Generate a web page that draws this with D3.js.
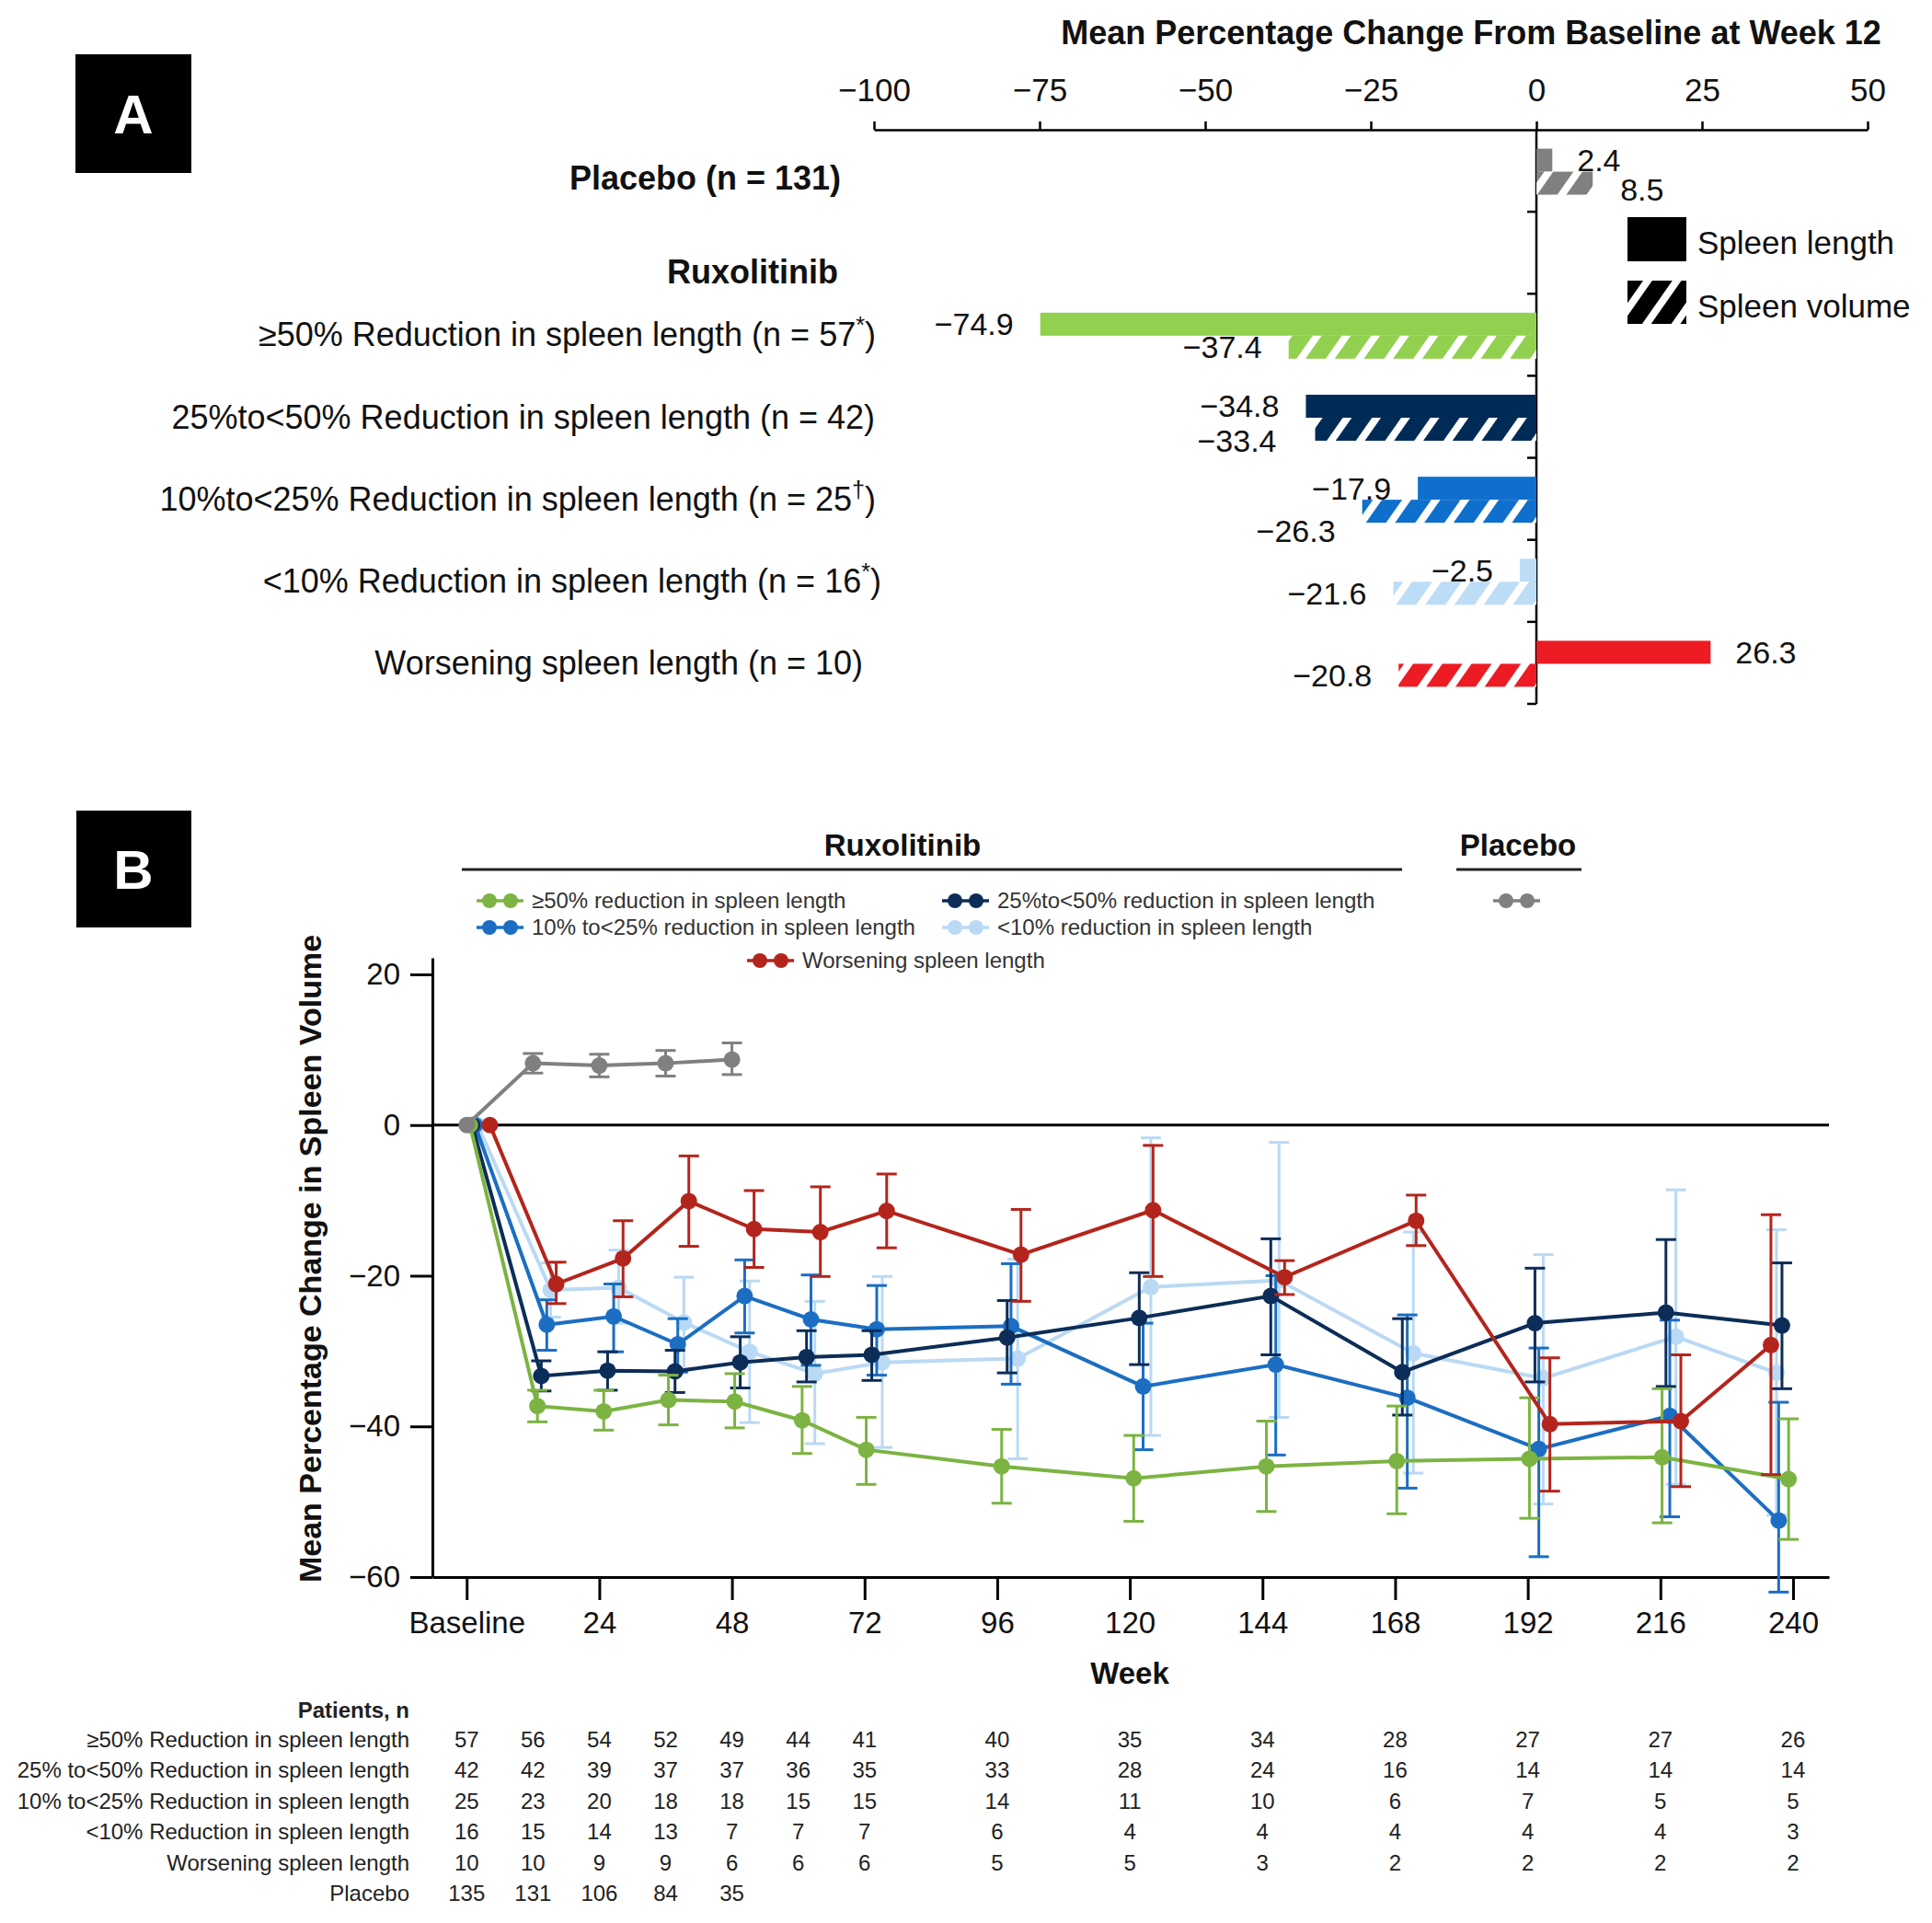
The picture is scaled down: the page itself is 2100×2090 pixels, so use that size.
<!DOCTYPE html>
<html><head><meta charset="utf-8">
<script src="https://cdn.jsdelivr.net/npm/d3@7"></script>
<style>body{margin:0;background:#fff}</style>
</head><body>
<svg id="chart" width="2100" height="2090"></svg>
<script>
// ---------------- DATA: Panel A ----------------
const panelARowLabels = ["Placebo (n = 131)", "Ruxolitinib",
  "≥50% Reduction in spleen length (n = 57*)",
  "25%to<50% Reduction in spleen length (n = 42)",
  "10%to<25% Reduction in spleen length (n = 25†)",
  "<10% Reduction in spleen length (n = 16*)",
  "Worsening spleen length (n = 10)"];
const panelAGroups = ["placebo", "g50", "g25", "g10", "g0", "worse"];
const spleenLengthChange = [2.4, -74.9, -34.8, -17.9, -2.5, 26.3];
const spleenVolumeChange = [8.5, -37.4, -33.4, -26.3, -21.6, -20.8];
const panelATicks = [-100, -75, -50, -25, 0, 25, 50];

// ---------------- DATA: Panel B ----------------
const weekTicks = [0, 24, 48, 72, 96, 120, 144, 168, 192, 216, 240];
const tableWeeks = [0, 12, 24, 36, 48, 60, 72, 96, 120, 144, 168, 192, 216, 240];
const seriesNames = ["≥50% reduction in spleen length", "25%to<50% reduction in spleen length",
  "10% to<25% reduction in spleen length", "<10% reduction in spleen length",
  "Worsening spleen length", "Placebo"];

const g50Weeks = [0.6, 12.8, 24.8, 36.5, 48.5, 60.7, 72.3, 96.8, 120.7, 144.7, 168.3, 192.3, 216.3, 239.2];
const g50Mean  = [0, -37.3, -38.0, -36.5, -36.7, -39.2, -43.1, -45.3, -46.9, -45.3, -44.6, -44.3, -44.1, -47.0];
const g50Hi    = [null, -35.2, -35.2, -33.2, -33.0, -34.7, -38.8, -40.4, -41.2, -39.3, -37.3, -36.2, -35.0, -39.0];
const g50Lo    = [null, -39.4, -40.5, -39.8, -40.2, -43.6, -47.7, -50.2, -52.6, -51.3, -51.6, -52.2, -52.8, -55.0];

const g25Weeks = [1.0, 13.5, 25.5, 37.7, 49.5, 61.5, 73.3, 97.8, 121.7, 145.5, 169.3, 193.3, 217.0, 238.0];
const g25Mean  = [0, -33.3, -32.6, -32.7, -31.5, -30.8, -30.5, -28.2, -25.6, -22.7, -32.8, -26.3, -24.9, -26.6];
const g25Hi    = [null, -31.3, -30.1, -29.9, -28.1, -27.3, -27.3, -23.3, -19.6, -15.1, -25.7, -19.0, -15.2, -18.3];
const g25Lo    = [null, -35.3, -35.2, -35.5, -34.9, -34.1, -33.9, -32.9, -31.8, -30.5, -38.5, -34.1, -34.7, -35.0];

const g10Weeks = [1.5, 14.5, 26.6, 38.2, 50.3, 62.3, 74.2, 98.5, 122.4, 146.4, 170.2, 194.0, 217.7, 237.4];
const g10Mean  = [0, -26.5, -25.4, -29.1, -22.7, -25.8, -27.1, -26.7, -34.7, -31.8, -36.2, -43.0, -38.6, -52.5];
const g10Hi    = [null, -23.2, -21.1, -25.7, -17.9, -19.9, -21.3, -18.4, -26.3, -20.0, -25.2, -29.6, -25.9, -36.8];
const g10Lo    = [null, -29.9, -30.1, -32.8, -27.6, -31.9, -33.2, -34.4, -43.1, -43.8, -48.2, -57.3, -52.0, -62.0];

const g0Weeks  = [2.0, 15.2, 27.5, 39.3, 51.2, 63.0, 75.2, 99.7, 123.8, 147.0, 171.3, 194.8, 218.8, 237.0];
const g0Mean   = [0, -21.9, -21.6, -26.2, -30.1, -33.0, -31.5, -31.0, -21.5, -20.6, -30.3, -33.6, -28.1, -32.9];
const g0Hi     = [null, -18.3, -16.6, -20.2, -20.7, -23.4, -20.1, -17.8, -1.7, -2.3, -14.2, -17.2, -8.6, -13.9];
const g0Lo     = [null, -25.5, -26.3, -32.3, -39.5, -42.3, -42.8, -44.3, -41.2, -38.8, -46.2, -50.3, -47.7, -51.8];

const worseWeeks = [4.2, 16.2, 28.3, 40.2, 52.0, 64.0, 76.0, 100.3, 124.2, 148.0, 171.8, 196.0, 219.7, 236.0];
const worseMean  = [0, -21.1, -17.7, -10.1, -13.8, -14.2, -11.4, -17.2, -11.3, -20.2, -12.7, -39.7, -39.3, -29.2];
const worseHi    = [null, -18.2, -12.7, -4.1, -8.7, -8.2, -6.5, -11.2, -2.7, -18.0, -9.3, -30.9, -30.5, -11.9];
const worseLo    = [null, -23.7, -22.8, -16.1, -18.9, -20.1, -16.3, -23.4, -20.1, -22.5, -16.0, -48.6, -48.0, -46.4];

const placeboWeeks = [0, 12, 24, 36, 48];
const placeboMean  = [0, 8.2, 7.9, 8.2, 8.7];
const placeboHi    = [null, 9.5, 9.4, 9.9, 10.9];
const placeboLo    = [null, 6.9, 6.4, 6.5, 6.7];

const tableLabels = ["≥50% Reduction in spleen length", "25% to<50% Reduction in spleen length",
  "10% to<25% Reduction in spleen length", "<10% Reduction in spleen length",
  "Worsening spleen length", "Placebo"];
const nG50   = [57, 56, 54, 52, 49, 44, 41, 40, 35, 34, 28, 27, 27, 26];
const nG25   = [42, 42, 39, 37, 37, 36, 35, 33, 28, 24, 16, 14, 14, 14];
const nG10   = [25, 23, 20, 18, 18, 15, 15, 14, 11, 10, 6, 7, 5, 5];
const nG0    = [16, 15, 14, 13, 7, 7, 7, 6, 4, 4, 4, 4, 4, 3];
const nWorse = [10, 10, 9, 9, 6, 6, 6, 5, 5, 3, 2, 2, 2, 2];
const nPlacebo = [135, 131, 106, 84, 35];

// ---------------- STYLE ----------------
const FONT = "'Liberation Sans', Arial, Helvetica, sans-serif";
const colorsA = ["#808080", "#92d050", "#002b56", "#0f6fcc", "#bddcf6", "#ed1c24"];
const colorsB = { g50: "#7cb342", g25: "#0c2d57", g10: "#1b6ec2", g0: "#bad9f4", worse: "#b3251c", placebo: "#808080" };
const minus = d => d < 0 ? "\u2212" + Math.abs(d) : String(d);

const svg = d3.select("#chart");
svg.append("rect").attr("width", 2100).attr("height", 2090).attr("fill", "#fff");
const defs = svg.append("defs");

function addText(x, y, txt, opts = {}) {
  const t = svg.append("text").attr("x", x).attr("y", y)
    .attr("font-family", FONT).attr("font-size", opts.size || 35)
    .attr("font-weight", opts.bold ? "bold" : "normal")
    .attr("fill", opts.fill || "#111")
    .attr("text-anchor", opts.anchor || "start")
    .attr("dy", "0.35em");
  if (opts.rotate) t.attr("transform", `rotate(${opts.rotate},${x},${y})`);
  const parts = txt.split(/([*†])/);
  parts.forEach(p => {
    if (p === "") return;
    if (p === "*" || p === "†") {
      t.append("tspan").attr("font-size", (opts.size || 35) * 0.7).attr("baseline-shift", "super").text(p);
    } else t.append("tspan").text(p);
  });
  return t;
}

// ================= PANEL A =================
svg.append("rect").attr("x", 82).attr("y", 59).attr("width", 126).attr("height", 129).attr("fill", "#000");
addText(145, 124, "A", { size: 60, bold: true, fill: "#fff", anchor: "middle" });

const xA = d3.scaleLinear().domain([-100, 50]).range([950, 2030]);
const rowKeys = ["placebo", "rux", "g50", "g25", "g10", "g0", "worse"];
const yA = d3.scaleBand().domain(rowKeys).range([141, 765]);
const bw = yA.bandwidth();

addText(1599, 35, "Mean Percentage Change From Baseline at Week 12", { size: 36, bold: true, anchor: "middle" });

const axA = svg.append("g").attr("transform", "translate(0,141)")
  .call(d3.axisTop(xA).tickValues(panelATicks).tickSize(9).tickSizeOuter(0).tickPadding(22).tickFormat(minus));
axA.select(".domain").attr("stroke", "#000").attr("stroke-width", 2.5);
axA.selectAll(".tick line").attr("stroke", "#000").attr("stroke-width", 2.5);
axA.selectAll(".tick text").attr("font-size", 35).attr("font-family", FONT).attr("fill", "#111");

svg.append("line").attr("x1", xA(0)).attr("x2", xA(0)).attr("y1", 141).attr("y2", yA.range()[1])
  .attr("stroke", "#000").attr("stroke-width", 2.5);
rowKeys.forEach(k => {
  const y = yA(k) + bw;
  svg.append("line").attr("x1", xA(0) - 10).attr("x2", xA(0)).attr("y1", y).attr("y2", y)
    .attr("stroke", "#000").attr("stroke-width", 2.5);
});

function hatch(id, color) {
  const p = defs.append("pattern").attr("id", id).attr("patternUnits", "userSpaceOnUse")
    .attr("width", 26).attr("height", 26).attr("patternTransform", "rotate(35)");
  p.append("rect").attr("width", 26).attr("height", 26).attr("fill", color);
  p.append("rect").attr("width", 8).attr("height", 26).attr("fill", "#fff");
}
colorsA.forEach((c, i) => hatch("hatchA" + i, c));
hatch("hatchBlack", "#000");

const barH = 25;
const nudge = { "vol-0": [3, 7], "vol-2": [-13, 13], "vol-3": [0, 21] };
panelAGroups.forEach((k, i) => {
  const c = yA(k) + bw / 2 + 1;
  const x0 = xA(0);
  const L = spleenLengthChange[i], V = spleenVolumeChange[i];
  svg.append("rect").attr("x", Math.min(x0, xA(L))).attr("y", c - barH)
    .attr("width", Math.abs(xA(L) - x0)).attr("height", barH).attr("fill", colorsA[i]);
  svg.append("rect").attr("x", Math.min(x0, xA(V))).attr("y", c)
    .attr("width", Math.abs(xA(V) - x0)).attr("height", barH).attr("fill", `url(#hatchA${i})`);
  [[L, c - barH / 2, "len-" + i], [V, c + barH / 2, "vol-" + i]].forEach(([v, yy, key]) => {
    const nd = nudge[key] || [0, 0];
    const xx = v >= 0 ? xA(v) + 27 : xA(v) - 29;
    addText(xx + nd[0], yy + nd[1], minus(v), { size: 34, anchor: v >= 0 ? "start" : "end" });
  });
});

addText(914, yA("placebo") + bw / 2 + 8, panelARowLabels[0], { size: 36, bold: true, anchor: "end" });
addText(911, yA("rux") + bw / 2 + 21, panelARowLabels[1], { size: 36, bold: true, anchor: "end" });
const rowLabelRight = [952, 951, 952, 958, 938];
["g50", "g25", "g10", "g0", "worse"].forEach((k, i) => {
  addText(rowLabelRight[i], yA(k) + bw / 2, panelARowLabels[i + 2], { size: 36, anchor: "end" });
});

svg.append("rect").attr("x", 1769).attr("y", 236).attr("width", 64).attr("height", 48).attr("fill", "#000");
svg.append("rect").attr("x", 1769).attr("y", 305).attr("width", 64).attr("height", 47).attr("fill", "url(#hatchBlack)");
addText(1845, 264, "Spleen length", { size: 35 });
addText(1845, 333, "Spleen volume", { size: 35 });

// ================= PANEL B =================
svg.append("rect").attr("x", 83).attr("y", 881).attr("width", 125).attr("height", 127).attr("fill", "#000");
addText(145, 945, "B", { size: 60, bold: true, fill: "#fff", anchor: "middle" });

const xB = d3.scaleLinear().domain([-6.2, 246.5]).range([470, 1988]);
const yB = d3.scaleLinear().domain([-60, 22.2]).range([1714, 1041]);

addText(981, 918, "Ruxolitinib", { size: 33, bold: true, anchor: "middle" });
svg.append("line").attr("x1", 502).attr("x2", 1524).attr("y1", 945).attr("y2", 945).attr("stroke", "#222").attr("stroke-width", 3);
addText(1650, 918, "Placebo", { size: 33, bold: true, anchor: "middle" });
svg.append("line").attr("x1", 1583).attr("x2", 1719).attr("y1", 945).attr("y2", 945).attr("stroke", "#222").attr("stroke-width", 3);

function legendMarker(x, y, color) {
  svg.append("line").attr("x1", x).attr("x2", x + 51).attr("y1", y).attr("y2", y).attr("stroke", color).attr("stroke-width", 3.5);
  [x + 14, x + 37].forEach(cx => svg.append("circle").attr("cx", cx).attr("cy", y).attr("r", 8).attr("fill", color));
}
const legB = [
  ["g50", 0, 518, 979], ["g25", 1, 1024, 979], ["placebo", -1, 1623, 979],
  ["g10", 2, 518, 1008], ["g0", 3, 1024, 1008], ["worse", 4, 812, 1044]
];
legB.forEach(([k, idx, x, y]) => {
  legendMarker(x, y, colorsB[k]);
  if (idx >= 0) addText(x + 60, y, seriesNames[idx], { size: 24, fill: "#333" });
});

const axY = svg.append("g").attr("transform", `translate(${xB.range()[0]},0)`)
  .call(d3.axisLeft(yB).tickValues([-60, -40, -20, 0, 20]).tickSize(24).tickPadding(11).tickSizeOuter(0).tickFormat(minus));
const axX = svg.append("g").attr("transform", `translate(0,${yB.range()[0]})`)
  .call(d3.axisBottom(xB).tickValues(weekTicks).tickSize(25).tickPadding(13).tickSizeOuter(0)
    .tickFormat(d => d === 0 ? "Baseline" : d));
[axX, axY].forEach(a => {
  a.select(".domain").attr("stroke", "#000").attr("stroke-width", 3);
  a.selectAll(".tick line").attr("stroke", "#000").attr("stroke-width", 3);
  a.selectAll(".tick text").attr("font-size", 33).attr("font-family", FONT).attr("fill", "#111");
});
svg.append("line").attr("x1", xB.range()[0]).attr("x2", xB.range()[1]).attr("y1", yB(0)).attr("y2", yB(0))
  .attr("stroke", "#000").attr("stroke-width", 3);

addText(337, 1368, "Mean Percentage Change in Spleen Volume", { size: 34, bold: true, anchor: "middle", rotate: -90 });
addText(1228, 1818, "Week", { size: 33, bold: true, anchor: "middle" });

const seriesB = [
  { key: "g0", w: g0Weeks, m: g0Mean, hi: g0Hi, lo: g0Lo },
  { key: "g10", w: g10Weeks, m: g10Mean, hi: g10Hi, lo: g10Lo },
  { key: "g25", w: g25Weeks, m: g25Mean, hi: g25Hi, lo: g25Lo },
  { key: "g50", w: g50Weeks, m: g50Mean, hi: g50Hi, lo: g50Lo },
  { key: "placebo", w: placeboWeeks, m: placeboMean, hi: placeboHi, lo: placeboLo },
  { key: "worse", w: worseWeeks, m: worseMean, hi: worseHi, lo: worseLo }
];
const lineGen = d3.line().x(d => xB(d[0])).y(d => yB(d[1]));
seriesB.forEach(s => {
  const col = colorsB[s.key];
  const g = svg.append("g");
  s.w.forEach((w, i) => {
    if (s.hi[i] == null) return;
    const x = xB(w);
    g.append("line").attr("x1", x).attr("x2", x).attr("y1", yB(s.hi[i])).attr("y2", yB(s.lo[i]))
      .attr("stroke", col).attr("stroke-width", 3);
    [s.hi[i], s.lo[i]].forEach(v => g.append("line").attr("x1", x - 11).attr("x2", x + 11)
      .attr("y1", yB(v)).attr("y2", yB(v)).attr("stroke", col).attr("stroke-width", 3));
  });
  g.append("path").datum(s.w.map((w, i) => [w, s.m[i]])).attr("d", lineGen)
    .attr("fill", "none").attr("stroke", col).attr("stroke-width", 4);
  s.w.forEach((w, i) => g.append("circle").attr("cx", xB(w)).attr("cy", yB(s.m[i])).attr("r", 9).attr("fill", col));
});

addText(445, 1859, "Patients, n", { size: 24, bold: true, anchor: "end", fill: "#222" });
const tableCounts = [nG50, nG25, nG10, nG0, nWorse, nPlacebo];
const rowY = [1891, 1924, 1958, 1991, 2025, 2058];
tableLabels.forEach((lab, r) => {
  addText(445, rowY[r], lab, { size: 24, anchor: "end", fill: "#222" });
  tableCounts[r].forEach((n, i) => addText(xB(tableWeeks[i]), rowY[r], String(n), { size: 24, anchor: "middle", fill: "#222" }));
});
</script>
</body></html>
